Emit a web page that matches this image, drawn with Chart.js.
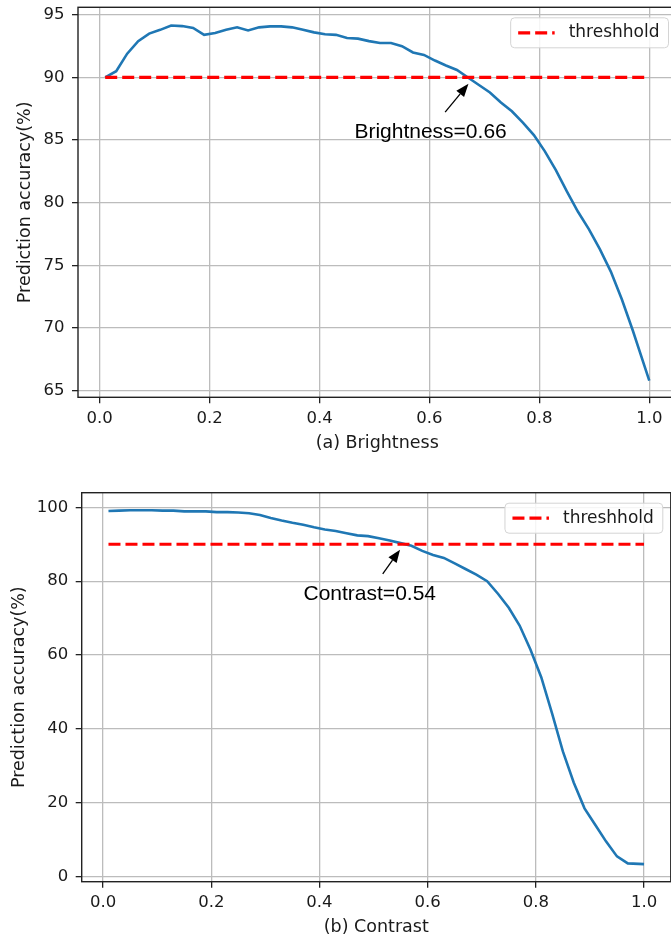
<!DOCTYPE html>
<html>
<head>
<meta charset="utf-8">
<script src="https://cdn.jsdelivr.net/npm/chart.js@4.4.0/dist/chart.umd.min.js"></script>
<style>
  body { margin: 0; width: 671px; height: 941px; overflow: hidden; position: relative; background: #fff; }
  canvas { position: absolute; left: 0; }
  #brightChart { top: 0; }
  #contrastChart { top: 460px; }
</style>
</head>
<body>
<canvas id="brightChart" width="700" height="460"></canvas>
<canvas id="contrastChart" width="700" height="481"></canvas>
<script>
// (a) brightness sweep
var brightX = [0.01, 0.03, 0.05, 0.07, 0.09, 0.11, 0.13, 0.15, 0.17, 0.19,
               0.21, 0.23, 0.25, 0.27, 0.29, 0.31, 0.33, 0.35, 0.37, 0.39,
               0.41, 0.43, 0.45, 0.47, 0.49, 0.51, 0.53, 0.55, 0.57, 0.59,
               0.61, 0.63, 0.65, 0.67, 0.69, 0.71, 0.73, 0.75, 0.77, 0.79,
               0.81, 0.83, 0.85, 0.87, 0.89, 0.91, 0.93, 0.95, 0.97, 1.00];
var brightAcc = [90.0, 90.5, 91.9, 92.9, 93.5, 93.8, 94.15, 94.1, 93.95, 93.4,
                 93.55, 93.8, 94.0, 93.75, 94.0, 94.08, 94.08, 94.0, 93.8, 93.6,
                 93.45, 93.4, 93.15, 93.1, 92.9, 92.75, 92.75, 92.5, 92.0, 91.8,
                 91.35, 90.95, 90.6, 90.0, 89.4, 88.8, 88.0, 87.3, 86.4, 85.4,
                 84.1, 82.6, 80.9, 79.3, 77.9, 76.3, 74.5, 72.3, 69.8, 65.8];

// (b) contrast sweep
var contrastX = [0.01, 0.03, 0.05, 0.07, 0.09, 0.11, 0.13, 0.15, 0.17, 0.19,
                 0.21, 0.23, 0.25, 0.27, 0.29, 0.31, 0.33, 0.35, 0.37, 0.39,
                 0.41, 0.43, 0.45, 0.47, 0.49, 0.51, 0.53, 0.55, 0.57, 0.59,
                 0.61, 0.63, 0.65, 0.67, 0.69, 0.71, 0.73, 0.75, 0.77, 0.79,
                 0.81, 0.83, 0.85, 0.87, 0.89, 0.91, 0.93, 0.95, 0.97, 1.00];
var contrastAcc = [99.0, 99.1, 99.2, 99.2, 99.2, 99.1, 99.1, 98.9, 98.9, 98.9,
                   98.7, 98.7, 98.6, 98.4, 97.9, 97.1, 96.4, 95.8, 95.3, 94.6,
                   94.0, 93.6, 93.0, 92.4, 92.2, 91.6, 91.0, 90.3, 89.6, 88.2,
                   87.1, 86.3, 84.8, 83.3, 81.8, 80.0, 76.6, 72.8, 68.0, 61.5,
                   54.0, 44.2, 33.9, 25.5, 18.5, 14.0, 9.5, 5.5, 3.6, 3.4];

var threshX = [0.01, 1.0];
var threshY = [90, 90];

var xTicks = [0.0, 0.2, 0.4, 0.6, 0.8, 1.0];
var brightYTicks = [65, 70, 75, 80, 85, 90, 95];
var contrastYTicks = [0, 20, 40, 60, 80, 100];

var INK = '#1a1a1a';
Chart.defaults.font.family = 'DejaVu Sans';

function pts(xs, ys) {
    return xs.map(function (v, i) { return { x: v, y: ys[i] }; });
}

// frame, legend box and arrow note, all drawn after the datasets
var decor = {
    id: 'decor',
    afterDraw: function (chart, args, opts) {
        var c = chart.ctx, a = chart.chartArea;
        var xs = chart.scales.x, ys = chart.scales.y;
        c.save();

        // spines
        c.strokeStyle = '#222';
        c.lineWidth = 1.4;
        c.strokeRect(a.left, a.top, a.right - a.left, a.bottom - a.top);

        // legend
        var ds = chart.data.datasets[1];
        c.font = '17px "DejaVu Sans"';
        var tw = c.measureText(ds.label).width;
        var w = tw + 67, h = 30;
        var lx = a.right - 8 - w, ly = a.top + 10.5;
        c.beginPath();
        c.roundRect(lx, ly, w, h, 4);
        c.fillStyle = 'rgba(255,255,255,0.85)';
        c.fill();
        c.strokeStyle = '#d4d4d4';
        c.lineWidth = 1;
        c.stroke();
        c.beginPath();
        c.setLineDash(ds.borderDash);
        c.strokeStyle = ds.borderColor;
        c.lineWidth = ds.borderWidth;
        c.moveTo(lx + 7.5, ly + h / 2);
        c.lineTo(lx + 44, ly + h / 2);
        c.stroke();
        c.setLineDash([]);
        c.fillStyle = INK;
        c.textBaseline = 'middle';
        c.textAlign = 'left';
        c.fillText(ds.label, lx + 58, ly + h / 2);

        // annotation
        var n = opts.note;
        var tx = xs.getPixelForValue(n.tip[0]), ty = ys.getPixelForValue(n.tip[1]);
        var sx = xs.getPixelForValue(n.tail[0]), sy = ys.getPixelForValue(n.tail[1]);
        var ang = Math.atan2(ty - sy, tx - sx);
        var hl = 13, hw = 5;
        var bx = tx - hl * Math.cos(ang), by = ty - hl * Math.sin(ang);
        c.strokeStyle = '#000';
        c.lineWidth = 1.3;
        c.beginPath();
        c.moveTo(sx, sy);
        c.lineTo(bx, by);
        c.stroke();
        c.fillStyle = '#000';
        c.beginPath();
        c.moveTo(tx, ty);
        c.lineTo(bx + hw * Math.sin(ang), by - hw * Math.cos(ang));
        c.lineTo(bx - hw * Math.sin(ang), by + hw * Math.cos(ang));
        c.closePath();
        c.fill();
        c.font = '21px "Liberation Sans"';
        c.textAlign = 'center';
        c.textBaseline = 'alphabetic';
        c.fillText(n.text, xs.getPixelForValue(n.at[0]), ys.getPixelForValue(n.at[1]));

        c.restore();
    }
};

function makeChart(id, cfg) {
    return new Chart(document.getElementById(id), {
        type: 'line',
        data: {
            datasets: [{
                label: 'accuracy',
                data: pts(cfg.x, cfg.y),
                borderColor: '#1f77b4',
                borderWidth: 2.6,
                pointRadius: 0,
                tension: 0,
                order: 1
            }, {
                label: 'threshhold',
                data: pts(threshX, threshY),
                borderColor: '#ff0000',
                borderWidth: 3.2,
                borderDash: [12, 5],
                pointRadius: 0,
                order: 0
            }]
        },
        options: {
            responsive: false,
            animation: false,
            events: [],
            layout: { autoPadding: false, padding: cfg.pad },
            plugins: {
                legend: { display: false },
                tooltip: { enabled: false },
                decor: { note: cfg.note }
            },
            scales: {
                x: {
                    type: 'linear',
                    min: -0.0395,
                    max: 1.0495,
                    afterBuildTicks: function (s) { s.ticks = xTicks.map(function (v) { return { value: v }; }); },
                    afterFit: function (s) { s.height = cfg.xh; s.paddingLeft = 0; s.paddingRight = 0; },
                    ticks: {
                        callback: function (v) { return v.toFixed(1); },
                        color: INK, font: { size: 16.5 }, padding: cfg.xPad,
                        maxRotation: 0, autoSkip: false
                    },
                    grid: { color: '#bcbcbc', lineWidth: 1.3, tickLength: 6, tickColor: '#222', tickWidth: 1.3 },
                    border: { display: false },
                    title: {
                        display: true, text: cfg.xTitle, color: INK,
                        font: { size: 17.5 }, padding: { top: 0, bottom: cfg.xTitlePad }
                    }
                },
                y: {
                    type: 'linear',
                    min: cfg.yMin,
                    max: cfg.yMax,
                    afterBuildTicks: function (s) { s.ticks = cfg.yTicks.map(function (v) { return { value: v }; }); },
                    afterFit: function (s) { s.width = cfg.yw; s.paddingTop = 0; s.paddingBottom = 0; },
                    ticks: {
                        callback: function (v) { return String(v); },
                        color: INK, font: { size: 16.5 }, padding: 7.5
                    },
                    grid: { color: '#bcbcbc', lineWidth: 1.3, tickLength: 6, tickColor: '#222', tickWidth: 1.3 },
                    border: { display: false },
                    title: {
                        display: true, text: 'Prediction accuracy(%)', color: INK,
                        font: { size: 17.5 }, padding: { top: cfg.yTitlePad, bottom: 0 }
                    }
                }
            }
        },
        plugins: [decor]
    });
}

makeChart('brightChart', {
    x: brightX, y: brightAcc,
    yMin: 64.47, yMax: 95.6, yTicks: brightYTicks,
    pad: { top: 7.3, right: 23.5, bottom: 0, left: 0 },
    xh: 62.7, yw: 78, xPad: 6, xTitlePad: 6.3, yTitlePad: 14.5,
    xTitle: '(a) Brightness',
    note: { text: 'Brightness=0.66', tip: [0.671, 89.49], tail: [0.6285, 87.23], at: [0.602, 85.15] }
});

makeChart('contrastChart', {
    x: contrastX, y: contrastAcc,
    yMin: -1.35, yMax: 103.95, yTicks: contrastYTicks,
    pad: { top: 32.7, right: 29.2, bottom: 0, left: 0 },
    xh: 59.3, yw: 81.7, xPad: 5, xTitlePad: 2.8, yTitlePad: 8.5,
    xTitle: '(b) Contrast',
    note: { text: 'Contrast=0.54', tip: [0.549, 88.54], tail: [0.517, 81.95], at: [0.493, 75.0] }
});
</script>
</body>
</html>
